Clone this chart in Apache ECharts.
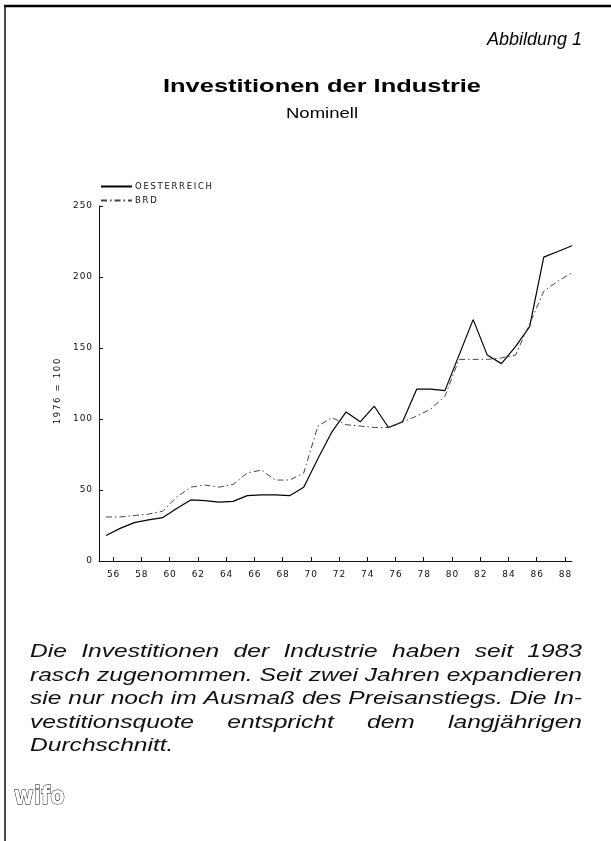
<!DOCTYPE html>
<html><head><meta charset="utf-8">
<script src="https://cdn.jsdelivr.net/npm/echarts@6/dist/echarts.min.js"></script>
<style>html,body{margin:0;padding:0;background:#fff}#c{width:611px;height:841px}</style>
</head><body><div id="c"></div>
<script>
// ---- data ----
const years = [1955,1956,1957,1958,1959,1960,1961,1962,1963,1964,1965,1966,1967,1968,1969,1970,1971,1972,1973,1974,1975,1976,1977,1978,1979,1980,1981,1982,1983,1984,1985,1986,1987,1988];
const oesterreich = [18,23,27,29,30.5,37,43,42.5,41.5,42,46,46.5,46.5,46,52,72,91,105,98,109,94,98,121,121,120,145,170,145,139,151,165,214,218,222];
const brd = [31,31,32,33,35,45,52,53.5,52,54,62,64,57,57,62,95,101,96,95,94,94,98,102,107,116,142,142,142,143,145,167,190,197,203];
const xTickYears = [1956,1958,1960,1962,1964,1966,1968,1970,1972,1974,1976,1978,1980,1982,1984,1986,1988];
const seriesNames = ['OESTERREICH','BRD'];
const figLabel = 'Abbildung 1';
const titleText = 'Investitionen der Industrie';
const subtitleText = 'Nominell';
const yAxisName = '1976 = 100';
const paragraphLines = [
  'Die Investitionen der Industrie haben seit 1983',
  'rasch zugenommen. Seit zwei Jahren expandieren',
  'sie nur noch im Ausmaß des Preisanstiegs. Die In-',
  'vestitionsquote entspricht dem langjährigen',
  'Durchschnitt.'
];
const logoText = 'wifo';

// ---- helpers ----
const spaced = s => String(s).split('').join('\u200A');
const spacedWide = s => String(s).split('').join('\u2009');
const mctx = document.createElement('canvas').getContext('2d');
function measure(text, font){ mctx.font = font; return mctx.measureText(text).width; }

const chart = echarts.init(document.getElementById('c'), null, {renderer:'canvas'});
const axisFont = '"DejaVu Sans", sans-serif';
const helv = '"Liberation Sans", Arial, Helvetica, sans-serif';

const graphics = [];
// frame
graphics.push({type:'line', shape:{x1:4,y1:6,x2:611,y2:6}, style:{stroke:'#000', lineWidth:2.5}});
graphics.push({type:'line', shape:{x1:5,y1:6,x2:5,y2:841}, style:{stroke:'#111', lineWidth:1.5}});

// Abbildung 1 (right aligned)
(function(){
  const font = 'italic 18px ' + helv;
  const w = measure(figLabel, font);
  graphics.push({type:'text', x: 582 - w, y: 40,
    style:{text:figLabel, font:font, fill:'#000', verticalAlign:'middle'}});
})();
// Title
(function(){
  const font = 'bold 18px ' + helv;
  const w = measure(titleText, font);
  const target = 318; const s = target / w;
  graphics.push({type:'text', x: 322 - target/2, y: 87, scaleX: s,
    style:{text:titleText, font:font, fill:'#000', verticalAlign:'middle'}});
  const f2 = '15px ' + helv;
  const w2 = measure(subtitleText, f2);
  const t2 = 72; const s2 = t2 / w2;
  graphics.push({type:'text', x: 322 - t2/2, y: 114, scaleX: s2,
    style:{text:subtitleText, font:f2, fill:'#000', verticalAlign:'middle'}});
})();
// Paragraph (justified)
(function(){
  const font = 'italic 18.5px ' + helv;
  const left = 30, right = 582, width = right - left;
  const s = width / measure(paragraphLines[1], font);
  const spaceW = measure(' ', font) * s;
  const y0 = 652, lh = 23.5;
  paragraphLines.forEach((line, i) => {
    const words = line.split(' ');
    const ws = words.map(w => measure(w, font) * s);
    const sum = ws.reduce((a,b)=>a+b,0);
    const last = i === paragraphLines.length - 1;
    const gap = (last || words.length < 2) ? spaceW : (width - sum) / (words.length - 1);
    let x = left;
    words.forEach((w, j) => {
      graphics.push({type:'text', x: x, y: y0 + i*lh, scaleX: s,
        style:{text:w, font:font, fill:'#111', verticalAlign:'middle'}});
      x += ws[j] + gap;
    });
  });
})();
// logo
graphics.push({type:'text', x: 14, y: 797, scaleX: 0.85,
  style:{text:logoText, font:'bold 25px "DejaVu Sans", sans-serif', fill:'#fff', stroke:'#000', lineWidth:1, verticalAlign:'middle'}});

const option = {
  backgroundColor:'#fff',
  animation:false,
  grid:{left:99, right:39, top:206, bottom:280, containLabel:false},
  legend:{
    orient:'vertical', left:100, top:182, padding:0, itemWidth:31, itemHeight:8, itemGap:5,
    itemStyle:{opacity:0},
    textStyle:{fontFamily:axisFont, fontSize:8.5, color:'#111', padding:[0,0,0,-2]},
    formatter: n => spacedWide(n),
    data: seriesNames
  },
  xAxis:{
    type:'value', min:1955, max:1988.5,
    axisLine:{show:true, lineStyle:{color:'#111', width:1}},
    axisTick:{show:true, inside:true, length:4, customValues:xTickYears, lineStyle:{color:'#111'}},
    axisLabel:{customValues:xTickYears, formatter: v => spaced(String(v).slice(2)), fontFamily:axisFont, fontSize:9, color:'#111', margin:9},
    splitLine:{show:false}
  },
  yAxis:{
    type:'value', min:0, max:250, interval:50,
    name: spacedWide(yAxisName), nameLocation:'middle', nameGap:33, nameRotate:90,
    nameTextStyle:{fontFamily:axisFont, fontSize:8.5, color:'#111', padding:[0,0,0,-16]},
    axisLine:{show:true, lineStyle:{color:'#111', width:1}},
    axisTick:{show:true, inside:true, length:4, lineStyle:{color:'#111'}},
    axisLabel:{formatter: v => spaced(v), fontFamily:axisFont, fontSize:9, color:'#111', margin:7},
    splitLine:{show:false}
  },
  series:[
    {name:seriesNames[0], type:'line', symbol:'none', smooth:false,
     lineStyle:{color:'#000', width:1.2, type:'solid'},
     itemStyle:{color:'#000'},
     data: years.map((y,i)=>[y+0.5, oesterreich[i]])},
    {name:seriesNames[1], type:'line', symbol:'none', smooth:false,
     lineStyle:{color:'#444', width:1, type:[6,3,1.5,3]},
     itemStyle:{color:'#444'},
     data: years.map((y,i)=>[y+0.5, brd[i]])}
  ],
  graphic: graphics
};
chart.setOption(option);
</script>
</body></html>
